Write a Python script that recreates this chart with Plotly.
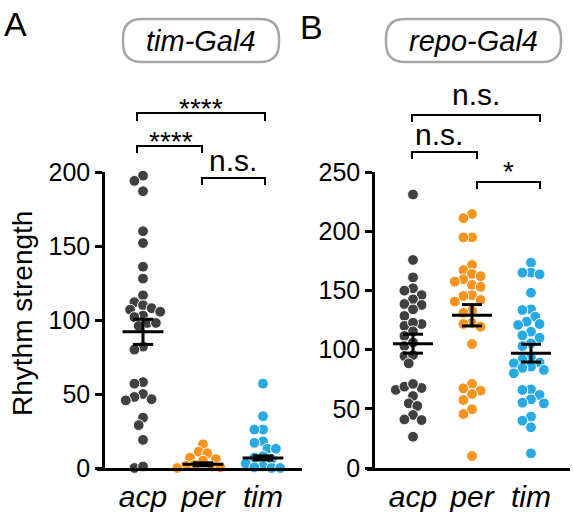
import plotly.graph_objects as go

W, H = 573, 512
FONT = "Liberation Sans, Arial, Helvetica, sans-serif"

categories = ["acp", "per", "tim"]
colors = ["#404040", "#F7941D", "#27AAE1"]

# Panel A: tim-Gal4
A_acp = [197.5, 194, 187, 160, 152, 136, 128, 116.7, 112, 110, 108, 107, 105.6, 103, 102,
         98, 98, 96, 82, 80, 58, 57, 50, 48, 46.5, 45.7, 34, 29, 19, 0, 1]
A_per = [16, 11, 10, 7, 6, 5, 2, 1.5, 1, 0.5, 0]
A_tim = [57, 35, 26, 26, 18, 17, 13, 13, 8, 7, 6, 3, 1, 0.5, 0, 0]
A_mean = [92, 2.5, 6.8]
A_sem = [8.5, 1.0, 1.4]

# Panel B: repo-Gal4
B_acp = [231, 175.7, 161, 151.8, 149.8, 146, 142.5, 137.7, 138.5, 134, 128.4, 120, 121.6,
         122.7, 115.4, 111.5, 103, 106, 94.6, 95.4, 88.4, 66, 67.6, 68.7, 71, 60.8, 54.6,
         52.4, 44.8, 40.5, 41, 26.4]
B_per = [214.5, 211, 194.8, 194.8, 171.5, 167.2, 163.9, 162, 159.4, 157.4, 154.6, 153, 146,
         145.3, 141.9, 140.5, 132.9, 131, 122.5, 121.6, 119.3, 104.7, 71, 67.3, 65.3, 62.5,
         57.4, 49.6, 45.6, 10.1]
B_tim = [173.4, 165, 165, 163.6, 148, 134, 133.4, 127.8, 123.6, 121.6, 120.8, 115.1, 112,
         110, 105.3, 103, 93, 91.8, 89, 88.4, 85.6, 84.5, 82.8, 80, 66.4, 65.9, 61.7, 58,
         55.1, 54.6, 43.4, 40, 34.4, 12.4]
B_mean = [105, 129, 97]
B_sem = [8, 9, 7.5]

A_ticks = [0, 50, 100, 150, 200]
B_ticks = [0, 50, 100, 150, 200, 250]

# ---- geometry (pixels) ----
Y0, YTOP = 468, 172
panels = {
    "A": dict(xl=97, xr=302, yaxis_px=103, c0=143, ppc=60, ymax=200),
    "B": dict(xl=367, xr=570, yaxis_px=373, c0=413, ppc=59, ymax=250),
}
for p in panels.values():
    p["ypu"] = (Y0 - YTOP) / p["ymax"]
    p["range"] = [(p["xl"] - p["c0"]) / p["ppc"], (p["xr"] - p["c0"]) / p["ppc"]]


def fx(px):
    return px / W


def fy(py):
    return 1 - py / H


def swarm(vals, ypu, ppc, d=8.6):
    order = sorted(range(len(vals)), key=lambda i: -vals[i])
    cands = [0.0]
    for k in range(1, 16):
        cands += [-k * d / 2, k * d / 2]
    placed = []
    offs = [0.0] * len(vals)
    for i in order:
        y = vals[i] * ypu
        chosen = cands[-1]
        for c in cands:
            if all((c - a) ** 2 + (y - b) ** 2 >= (d * 0.98) ** 2 for a, b in placed):
                chosen = c
                break
        placed.append((chosen, y))
        offs[i] = chosen / ppc
    return offs


fig = go.Figure()

data = {"A": [A_acp, A_per, A_tim], "B": [B_acp, B_per, B_tim]}
stats = {"A": (A_mean, A_sem), "B": (B_mean, B_sem)}
axes = {"A": ("x", "y"), "B": ("x2", "y2")}

for key in ["A", "B"]:
    p = panels[key]
    xa, ya = axes[key]
    for ci, vals in enumerate(data[key]):
        offs = swarm(vals, p["ypu"], p["ppc"])
        fig.add_trace(go.Scatter(
            x=[ci + o for o in offs], y=vals, mode="markers", xaxis=xa, yaxis=ya,
            marker=dict(size=10.8, color=colors[ci], line=dict(color="white", width=1)),
            cliponaxis=False, showlegend=False, hoverinfo="y"))
    means, sems = stats[key]
    xs, ys = [], []
    for ci, (m, s) in enumerate(zip(means, sems)):
        xs += [ci - 0.34, ci + 0.34, None, ci, ci, None,
               ci - 0.17, ci + 0.17, None, ci - 0.17, ci + 0.17, None]
        ys += [m, m, None, m - s, m + s, None, m - s, m - s, None, m + s, m + s, None]
    fig.add_trace(go.Scatter(x=xs, y=ys, mode="lines", xaxis=xa, yaxis=ya,
                             line=dict(color="black", width=3), cliponaxis=False,
                             showlegend=False, hoverinfo="skip"))

ydom = [fy(Y0), fy(YTOP)]
common_x = dict(tickvals=[0, 1, 2], ticktext=["<i>%s</i>" % c for c in categories],
                ticks="", showline=True, linecolor="black", linewidth=2.5,
                showgrid=False, zeroline=False, tickfont=dict(size=30, color="black"),
                fixedrange=True)
common_y = dict(ticks="outside", ticklen=7, tickwidth=2.5, tickcolor="black",
                showline=True, linecolor="black", linewidth=2.5, showgrid=False,
                zeroline=False, tickfont=dict(size=25, color="black"), fixedrange=True,
                anchor="free")

pa, pb = panels["A"], panels["B"]
fig.update_layout(
    width=W, height=H, margin=dict(l=0, r=0, t=0, b=0, pad=0, autoexpand=False),
    paper_bgcolor="white", plot_bgcolor="white",
    font=dict(family=FONT, color="black"),
    xaxis=dict(domain=[fx(pa["xl"]), fx(pa["xr"])], range=pa["range"], anchor="y", **common_x),
    yaxis=dict(domain=ydom, range=[0, 200], tickvals=A_ticks, position=fx(pa["yaxis_px"]),
               **common_y),
    xaxis2=dict(domain=[fx(pb["xl"]), fx(pb["xr"])], range=pb["range"], anchor="y2", **common_x),
    yaxis2=dict(domain=ydom, range=[0, 250], tickvals=B_ticks, position=fx(pb["yaxis_px"]),
                **common_y),
)

shapes = []
annotations = []


def pill(x0, y0, x1, y1, r):
    pts = (f"M {fx(x0 + r)},{fy(y0)} L {fx(x1 - r)},{fy(y0)} "
           f"Q {fx(x1)},{fy(y0)} {fx(x1)},{fy(y0 + r)} L {fx(x1)},{fy(y1 - r)} "
           f"Q {fx(x1)},{fy(y1)} {fx(x1 - r)},{fy(y1)} L {fx(x0 + r)},{fy(y1)} "
           f"Q {fx(x0)},{fy(y1)} {fx(x0)},{fy(y1 - r)} L {fx(x0)},{fy(y0 + r)} "
           f"Q {fx(x0)},{fy(y0)} {fx(x0 + r)},{fy(y0)} Z")
    return dict(type="path", xref="paper", yref="paper", path=pts,
                line=dict(color="#a6a6a6", width=2.5), fillcolor="rgba(0,0,0,0)")


def bracket(x0, x1, y, drop=7):
    path = (f"M {fx(x0)},{fy(y + drop)} L {fx(x0)},{fy(y)} "
            f"L {fx(x1)},{fy(y)} L {fx(x1)},{fy(y + drop)}")
    return dict(type="path", xref="paper", yref="paper", path=path,
                line=dict(color="black", width=2))


def text(x, y, s, size, **kw):
    d = dict(x=fx(x), y=fy(y), xref="paper", yref="paper", text=s, showarrow=False,
             font=dict(size=size, color="black", family=FONT), xanchor="center",
             yanchor="middle")
    d.update(kw)
    return d


# genotype boxes
shapes.append(pill(123, 19, 279, 62, 19))
shapes.append(pill(386, 19, 561, 62, 19))
annotations.append(text(201, 41, "<i>tim-Gal4</i>", 29))
annotations.append(text(473.5, 41, "<i>repo-Gal4</i>", 29))

# panel letters
annotations.append(text(15, 24, "A", 34))
annotations.append(text(311, 27, "B", 34))

# y title
annotations.append(text(22, 314, "Rhythm strength", 28, textangle=-90))

# significance brackets (panel A)
shapes.append(bracket(137, 265, 113, 8))
shapes.append(bracket(137, 202, 146, 7))
shapes.append(bracket(202, 265, 178, 7))
annotations.append(text(201, 108, "****", 28))
annotations.append(text(171, 141, "****", 28))
annotations.append(text(233, 160, "n.s.", 30))

# significance brackets (panel B)
shapes.append(bracket(412, 540, 115, 7))
shapes.append(bracket(412, 477, 152, 7))
shapes.append(bracket(477, 540, 182, 7))
annotations.append(text(476, 94, "n.s.", 30))
annotations.append(text(439, 134, "n.s.", 30))
annotations.append(text(508, 171, "*", 28))

fig.update_layout(shapes=shapes, annotations=annotations)
fig.write_html("out.html", config={"displayModeBar": False},
               post_script="document.body.style.margin='0px';"
                           "document.body.style.overflow='hidden';")
